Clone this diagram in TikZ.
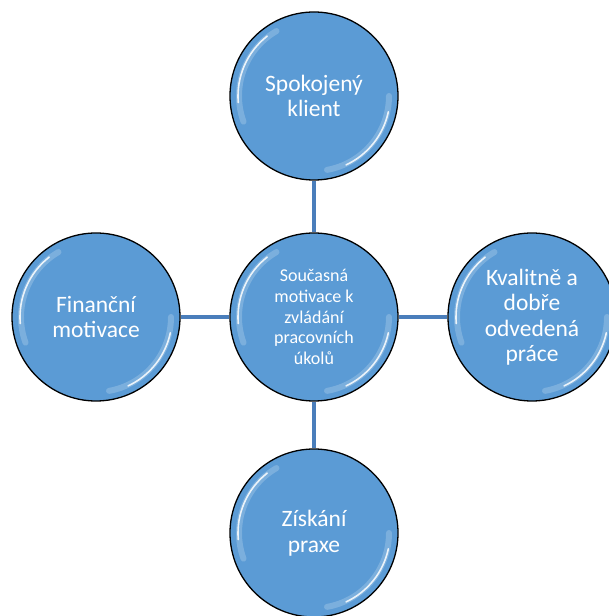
\documentclass[tikz,border=0pt]{standalone}
\usepackage{fontspec}
\setmainfont{Carlito}
\definecolor{fillblue}{HTML}{5B9BD5}
\definecolor{linkblue}{HTML}{4A7EBB}
\tikzset{
  bubble/.style={circle, draw=black, line width=1.3pt, fill=fillblue, minimum size=168pt,
    inner sep=0pt, text=white, align=center},
  bigtext/.style={font=\fontsize{23.5}{25.5}\selectfont},
  smalltext/.style={font=\fontsize{18}{20.6}\selectfont},
  link/.style={draw=linkblue, line width=3.2pt},
  glowwide/.style={draw=white, line width=6pt, opacity=0.2, line cap=round},
  glowthin/.style={draw=white, line width=1.6pt, opacity=0.85, line cap=round}
}
\begin{document}
\begin{tikzpicture}[x=1pt,y=1pt]
\useasboundingbox (0,0) rectangle (608,616);
\node[bubble, bigtext] (top) at (314,520) {Spokojený\\klient};
\node[bubble, smalltext] (ctr) at (314,299) {Současná\\motivace k\\zvládání\\pracovních\\úkolů};
\node[bubble, bigtext] (lft) at (96,299) {Finanční\\motivace};
\node[bubble, bigtext] (rgt) at (532,299) {Kvalitně a\\dobře\\odvedená\\práce};
\node[bubble, bigtext] (bot) at (314,83) {Získání\\praxe};
\foreach \n in {top,ctr,lft,rgt,bot}{
  \draw[glowwide] ([shift={(120:75)}]\n.center) arc[start angle=120, end angle=200, radius=75];
  \draw[glowthin] ([shift={(128:76)}]\n.center) arc[start angle=128, end angle=185, radius=76];
  \draw[glowwide] ([shift={(-80:75)}]\n.center) arc[start angle=-80, end angle=0, radius=75];
  \draw[glowthin] ([shift={(-65:76)}]\n.center) arc[start angle=-65, end angle=-12, radius=76];
}
\draw[link] (ctr) -- (top);
\draw[link] (ctr) -- (bot);
\draw[link] (ctr) -- (lft);
\draw[link] (ctr) -- (rgt);
\end{tikzpicture}
\end{document}
